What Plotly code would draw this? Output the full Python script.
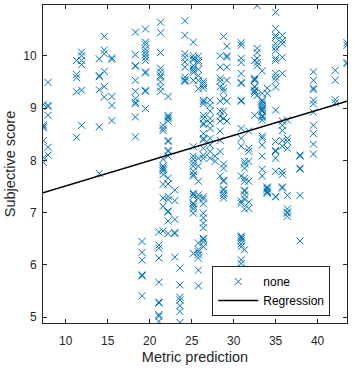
import plotly.graph_objects as go

# Column x positions (metric prediction) and the subjective scores in each column
metric_columns = [7.35, 7.9, 11.3, 11.9, 14.0, 14.6, 15.5, 18.3, 19.5, 19.1,
                  21.3, 21.1, 21.6, 22.2, 23.0, 23.6, 24.2, 25.2, 25.8, 26.4,
                  27.2, 27.8, 28.4, 28.8, 29.2, 30.9, 31.3, 31.8, 32.5, 32.8,
                  33.4, 34.0, 35.0, 35.8, 36.4, 37.9, 39.5, 42.1, 43.5]
score_columns = [
    [9.07, 8.68, 8.65, 8.62, 8.38, 8.05, 7.96],
    [9.49, 9.05, 9.03, 8.86, 8.25, 8.10],
    [9.91, 9.64, 9.58, 9.31, 8.44],
    [10.07, 10.00, 9.91, 9.83, 9.34, 8.67],
    [9.94, 9.62, 9.60, 9.35, 8.64, 7.75],
    [10.37, 10.11, 10.04, 9.70, 9.41, 9.21],
    [9.96, 9.93, 9.22, 9.05, 8.76],
    [10.45, 10.02, 9.81, 9.80, 9.53, 9.32, 9.18, 9.11, 9.08, 8.83, 8.45],
    [10.51, 10.26, 10.21, 10.13, 10.07, 10.02, 9.97, 9.91, 9.69, 9.67, 9.34, 9.32, 8.99],
    [6.45, 6.24, 6.09, 5.81, 5.79, 5.41],
    [10.64, 10.44, 10.06, 9.76, 9.69, 9.62, 9.59, 9.50, 9.40, 9.32],
    [6.63, 6.38, 6.32, 6.13, 5.67, 5.29, 5.27, 5.05, 5.02, 4.92],
    [8.67, 8.61, 8.57, 8.02, 7.89, 7.86, 7.83, 7.80, 7.73, 7.54, 7.28, 7.12, 6.65],
    [9.22, 8.86, 8.83, 8.80, 8.75, 8.38, 8.36, 8.19, 8.17, 8.08, 7.66, 7.55, 7.31, 7.25, 7.03, 7.01, 6.84, 6.60],
    [7.43, 7.23, 6.87, 6.62, 6.60, 6.15],
    [5.94, 5.62, 5.38, 5.33, 5.22, 5.11, 4.90],
    [10.67, 10.39, 10.04, 9.97, 9.88, 9.78, 9.59, 9.54, 9.53, 9.51],
    [10.26, 10.00, 9.95, 9.92, 9.81, 9.76, 9.72, 9.68, 9.53, 8.26, 8.08, 8.02, 7.95, 7.89, 7.79,
     7.73, 7.70, 7.37, 7.35, 7.31, 7.18, 7.16, 7.12, 7.07, 6.99, 6.22],
    [9.99, 9.91, 9.87, 9.74, 9.62, 9.53, 9.37, 8.04, 7.89, 7.60, 7.34, 7.28, 6.42, 6.29, 6.25,
     6.19, 6.13, 5.90, 5.60],
    [9.51, 9.47, 9.43, 9.38, 9.15, 9.12, 9.08, 8.86, 8.80, 8.71, 8.68, 8.51, 8.42, 8.39, 8.23,
     8.10, 8.04, 7.30, 7.26, 7.17, 6.99, 6.90, 6.80, 6.71, 6.51, 6.49, 6.44, 6.35],
    [9.15, 9.05, 8.94, 8.80, 8.71, 8.61, 8.42, 8.29, 8.17, 8.04],
    [8.08, 7.98],
    [10.00, 9.78, 9.57, 9.51, 9.41, 9.13, 8.94, 8.84, 8.75, 8.56, 8.38, 8.17, 7.70],
    [10.37, 9.38, 9.32, 9.18, 8.94, 8.80, 7.93, 7.85, 7.62, 7.60, 7.45, 7.43, 7.37, 7.33, 7.28],
    [10.18, 10.00, 9.97, 9.78, 9.53, 9.13, 8.75],
    [10.25, 10.20, 9.95, 9.87, 9.66, 9.49, 9.47, 9.15, 9.13, 8.61, 8.42, 8.27, 7.70, 7.22, 7.18,
     6.55, 6.53, 6.50, 6.46, 6.40, 6.35, 6.10, 6.03, 5.94, 5.84, 5.77],
    [7.98, 7.93, 7.85, 7.66, 7.60, 7.43, 7.41, 7.34, 7.26, 7.07, 6.29],
    [8.56, 8.23, 8.17, 7.98, 7.60, 7.20, 7.08],
    [9.91, 9.57, 9.55, 9.53, 9.41, 9.40, 9.34, 9.32, 9.28, 8.86],
    [10.96, 10.14, 10.06, 9.95, 9.87, 9.81, 9.24],
    [9.71, 9.28, 9.15, 9.13, 9.09, 9.05, 9.01, 8.99, 8.96, 8.94, 8.86, 8.84, 8.82, 8.77, 8.46,
     8.42, 8.29, 8.08, 7.83, 7.70],
    [9.38, 9.28, 7.49, 7.47, 7.45, 7.41, 7.39, 7.37],
    [10.83, 10.52, 10.39, 10.35, 10.23, 10.16, 10.10, 9.95, 9.91, 9.66, 9.59, 9.53, 9.40, 8.96,
     8.36, 8.19, 8.17, 8.04, 7.79, 7.31, 7.30],
    [10.39, 10.29, 10.23, 9.97, 9.66, 8.75, 8.67, 8.57, 8.38, 8.27, 7.79, 7.73, 7.49, 7.47],
    [8.77, 8.42, 8.36, 8.23, 7.33, 7.07, 7.01, 6.99, 6.93],
    [8.10, 8.08, 7.85, 7.83, 7.33, 6.46],
    [9.69, 9.53, 9.38, 9.35, 9.15, 9.08, 8.92, 8.67, 8.51, 8.31, 8.12],
    [9.72, 9.53, 9.16, 9.10],
    [10.25, 10.20, 9.87, 9.85],
]

# Regression line end points
reg_x = [7.3, 43.5]
reg_y = [7.38, 9.13]

x_ticks = [10, 15, 20, 25, 30, 35, 40]
y_ticks = [5, 6, 7, 8, 9, 10]

metric = []
score = []
for xv, ys in zip(metric_columns, score_columns):
    for yv in ys:
        metric.append(xv)
        score.append(yv)

BLUE = "#0072BD"
INK = "#262626"
FONT = "Liberation Sans, Arial, sans-serif"

fig = go.Figure()
fig.add_trace(go.Scatter(
    x=metric, y=score, mode="markers", name="none",
    marker=dict(symbol="x-thin", size=7, line=dict(width=1, color=BLUE), color=BLUE),
))
fig.add_trace(go.Scatter(
    x=reg_x, y=reg_y, mode="lines", name="Regression",
    line=dict(color="black", width=1.5),
))

axis_common = dict(
    showline=True, linecolor=INK, linewidth=1, mirror="allticks",
    ticks="inside", ticklen=4, tickwidth=1, tickcolor=INK,
    showgrid=False, zeroline=False,
    tickfont=dict(family=FONT, size=12, color=INK),
)

fig.update_layout(
    width=354, height=370,
    margin=dict(l=43, r=7, t=5, b=47),
    paper_bgcolor="white", plot_bgcolor="white",
    font=dict(family=FONT, color=INK),
    xaxis=dict(range=[7.3, 43.5], tickvals=x_ticks, ticklabelstandoff=7,
               title=dict(text="Metric prediction", font=dict(family=FONT, size=14.5, color=INK), standoff=4),
               **axis_common),
    yaxis=dict(range=[4.89, 10.97], tickvals=y_ticks, ticklabelstandoff=3,
               title=dict(text="Subjective score", font=dict(family=FONT, size=14.5, color=INK), standoff=4),
               **axis_common),
    legend=dict(x=0.945, y=0.022, xanchor="right", yanchor="bottom",
                bgcolor="white", bordercolor=INK, borderwidth=1,
                font=dict(family=FONT, size=12, color="black"),
                tracegroupgap=0, itemwidth=40),
    showlegend=True,
)

fig.write_html("out.html")
